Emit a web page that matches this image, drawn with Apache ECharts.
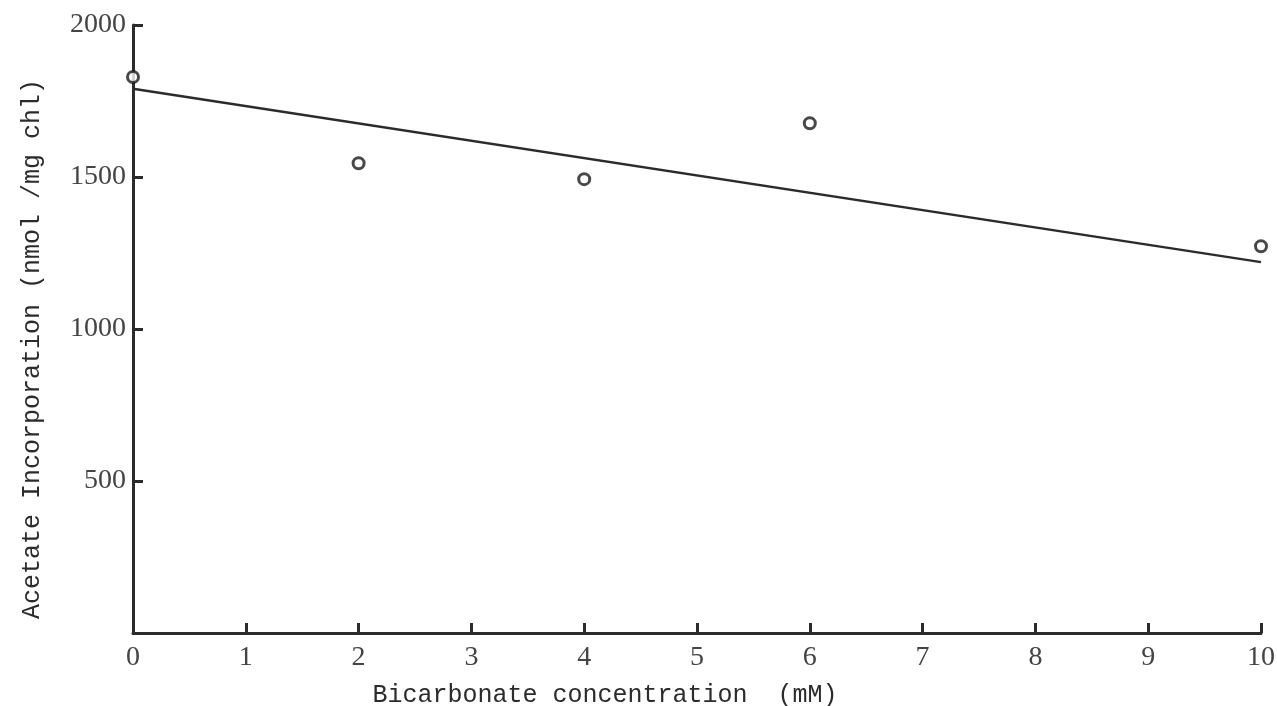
<!DOCTYPE html>
<html>
<head>
<meta charset="utf-8">
<script src="https://cdn.jsdelivr.net/npm/echarts@6/dist/echarts.min.js"></script>
<style>
  html, body { margin: 0; padding: 0; background: #fff; }
  #main { width: 1277px; height: 706px; }
</style>
</head>
<body>
<div id="main"></div>
<script>
    // measured points
    var bicarbonate = [0, 2, 4, 6, 10];
    var incorporation = [1829, 1545, 1493, 1677, 1272];
    // hand-drawn fit line end points
    var fitX = [0, 10];
    var fitY = [1790, 1220];

    var points = bicarbonate.map(function (x, i) { return [x, incorporation[i]]; });
    var fit = fitX.map(function (x, i) { return [x, fitY[i]]; });

    var ink = '#2b2b2b';
    var myChart = echarts.init(document.getElementById('main'));

    var option = {
        backgroundColor: '#fff',
        animation: false,
        grid: { left: 133, right: 16, top: 25, bottom: 73, containLabel: false, outerBoundsMode: 'none' },
        xAxis: {
            type: 'value',
            min: 0, max: 10, interval: 1,
            name: 'Bicarbonate concentration  (mM)',
            nameLocation: 'middle',
            nameGap: 50,
            nameTextStyle: {
                fontFamily: 'Liberation Mono', fontSize: 25, color: ink,
                padding: [0, 184, 0, 0]
            },
            axisLine: { lineStyle: { color: ink, width: 3 } },
            axisTick: { inside: true, length: 10, lineStyle: { color: ink, width: 3 } },
            axisLabel: { fontFamily: 'Liberation Serif', fontSize: 28, color: '#444', margin: 11 },
            splitLine: { show: false }
        },
        yAxis: {
            type: 'value',
            min: 0, max: 2000, interval: 500,
            name: 'Acetate Incorporation (nmol /mg chl)',
            nameLocation: 'middle',
            nameRotate: 90,
            nameGap: 88,
            nameTextStyle: {
                fontFamily: 'Liberation Mono', fontSize: 25, color: ink,
                padding: [0, 40, 0, 0]
            },
            axisLine: { show: true, lineStyle: { color: ink, width: 3 } },
            axisTick: { inside: true, length: 10, lineStyle: { color: ink, width: 3 } },
            axisLabel: {
                fontFamily: 'Liberation Serif', fontSize: 28, color: '#444', margin: 7,
                showMinLabel: false,
                formatter: function (v) { return String(v); }
            },
            splitLine: { show: false }
        },
        series: [
            {
                name: 'fit',
                type: 'line',
                data: fit,
                showSymbol: false,
                lineStyle: { color: ink, width: 2.5 },
                z: 2
            },
            {
                name: 'measured',
                type: 'scatter',
                data: points,
                symbol: 'circle',
                symbolSize: 11,
                itemStyle: { color: '#fff', borderColor: '#1a1a1a', borderWidth: 3 },
                z: 3
            }
        ]
    };
    myChart.setOption(option);
</script>
</body>
</html>
